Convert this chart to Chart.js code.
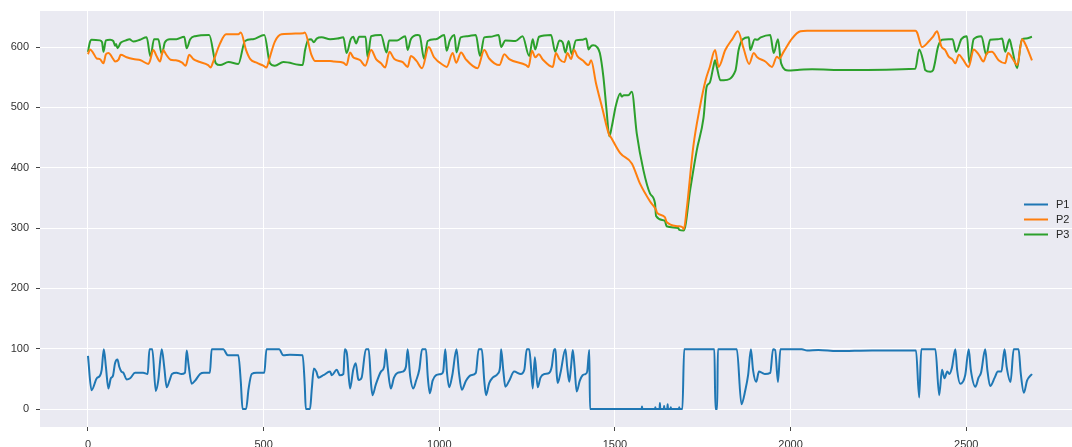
<!DOCTYPE html>
<html lang="en">
<head>
  <meta charset="UTF-8">
  <title>P1 P2 P3</title>
  <style>
    html, body {
      margin: 0;
      padding: 0;
      background: white;
      overflow: hidden;
    }
    #chart {
      display: block;
    }
  </style>
</head>
<body>
  <canvas id="chart" width="1072" height="447"></canvas>

  <script src="https://cdn.jsdelivr.net/npm/chart.js@4.4.0/dist/chart.umd.min.js"></script>
  <script>
    const SERIES_LABELS = ['P1', 'P2', 'P3'];
    const SERIES_COLORS = ['#1f77b4', '#ff7f0e', '#2ca02c'];
    const X_TICKS = [0, 500, 1000, 1500, 2000, 2500];
    const Y_TICKS = [0, 100, 200, 300, 400, 500, 600];

    const P1_X = [0, 10, 25, 34, 39, 45, 51, 58, 65, 71, 77, 84, 89, 95, 101, 110, 120, 134, 157, 170, 175, 183, 193, 200, 210, 217, 224, 232, 239, 252, 266, 276, 281, 286, 295, 305, 319, 330, 347, 352, 385, 398, 428, 435, 440, 450, 457, 466, 480, 502, 508, 544, 556, 575, 611, 617, 620, 632, 637, 643, 650, 656, 670, 689, 694, 708, 717, 727, 731, 737, 746, 755, 762, 769, 772, 779, 791, 799, 806, 810, 819, 834, 843, 848, 853, 862, 871, 881, 896, 905, 910, 917, 926, 934, 943, 951, 962, 967, 973, 981, 991, 1005, 1011, 1017, 1022, 1028, 1037, 1049, 1056, 1064, 1076, 1090, 1104, 1112, 1121, 1128, 1133, 1142, 1152, 1166, 1173, 1176, 1182, 1188, 1199, 1213, 1232, 1242, 1249, 1256, 1261, 1266, 1272, 1280, 1288, 1299, 1313, 1320, 1327, 1331, 1334, 1337, 1345, 1359, 1364, 1370, 1375, 1380, 1385, 1391, 1400, 1408, 1416, 1421, 1427, 1429, 1576, 1577, 1578, 1614, 1615, 1616, 1627, 1628, 1629, 1639, 1640, 1641, 1649, 1650, 1651, 1658, 1659, 1660, 1682, 1683, 1684, 1692, 1697, 1783, 1786, 1791, 1793, 1847, 1860, 1871, 1879, 1887, 1893, 1902, 1910, 1919, 1927, 1942, 1950, 1956, 1964, 1971, 2032, 2047, 2079, 2132, 2232, 2350, 2357, 2366, 2372, 2412, 2423, 2431, 2438, 2446, 2452, 2459, 2469, 2474, 2483, 2497, 2507, 2513, 2526, 2535, 2542, 2554, 2560, 2568, 2581, 2590, 2600, 2609, 2615, 2626, 2635, 2649, 2655, 2664, 2673, 2687];
    const P1_Y = [88, 31, 51, 55, 65, 99, 70, 34, 51, 55, 76, 82, 70, 62, 60, 49, 51, 60, 60, 58, 99, 99, 30, 47, 99, 70, 36, 47, 58, 60, 58, 60, 97, 75, 42, 47, 58, 60, 60, 99, 99, 89, 89, 45, 0, 0, 33, 58, 60, 60, 99, 99, 89, 90, 89, 40, 0, 0, 33, 67, 62, 52, 56, 62, 56, 65, 56, 58, 99, 92, 34, 65, 76, 50, 48, 52, 99, 99, 40, 23, 40, 62, 70, 99, 70, 34, 52, 60, 62, 70, 99, 55, 34, 47, 65, 99, 99, 55, 26, 47, 56, 58, 62, 99, 60, 36, 56, 99, 60, 32, 47, 56, 60, 99, 99, 47, 23, 43, 52, 58, 70, 99, 65, 37, 47, 62, 58, 65, 99, 99, 70, 34, 86, 36, 52, 58, 60, 70, 99, 99, 60, 43, 60, 99, 70, 45, 70, 98, 70, 29, 47, 56, 58, 62, 98, 0, 0, 4, 0, 0, 3, 0, 0, 10, 0, 0, 5, 0, 0, 8, 0, 0, 3, 0, 0, 3, 0, 0, 99, 99, 0, 0, 99, 99, 8, 31, 56, 99, 65, 45, 62, 60, 58, 60, 99, 98, 45, 99, 99, 97, 98, 96, 97, 97, 97, 19, 99, 99, 23, 65, 51, 62, 58, 68, 99, 65, 42, 56, 99, 65, 37, 52, 60, 99, 65, 38, 52, 62, 62, 99, 70, 45, 99, 99, 60, 27, 47, 58];

    const P2_X = [0, 6, 15, 25, 34, 44, 51, 58, 72, 77, 87, 93, 110, 129, 150, 172, 176, 186, 195, 205, 214, 222, 235, 250, 268, 278, 288, 300, 314, 342, 349, 356, 376, 393, 428, 435, 450, 462, 480, 499, 508, 516, 532, 551, 613, 617, 636, 646, 670, 689, 700, 727, 736, 746, 755, 763, 775, 789, 806, 820, 834, 846, 858, 872, 896, 910, 919, 935, 951, 970, 985, 1014, 1021, 1038, 1048, 1062, 1075, 1109, 1128, 1142, 1171, 1185, 1199, 1247, 1254, 1264, 1273, 1283, 1295, 1323, 1332, 1342, 1356, 1365, 1375, 1384, 1393, 1408, 1425, 1432, 1446, 1465, 1482, 1489, 1515, 1548, 1571, 1600, 1617, 1620, 1642, 1647, 1680, 1693, 1696, 1704, 1723, 1742, 1758, 1770, 1785, 1795, 1814, 1835, 1850, 1866, 1882, 1895, 1905, 1928, 1947, 1961, 1968, 1980, 2004, 2028, 2047, 2156, 2355, 2360, 2374, 2393, 2405, 2417, 2429, 2440, 2450, 2460, 2469, 2479, 2490, 2507, 2521, 2535, 2549, 2559, 2573, 2592, 2611, 2619, 2635, 2645, 2659, 2668, 2687];
    const P2_Y = [588, 596, 590, 581, 580, 573, 588, 590, 580, 576, 579, 587, 583, 580, 578, 572, 576, 595, 585, 576, 595, 588, 579, 578, 574, 569, 587, 580, 576, 570, 566, 575, 606, 621, 621, 624, 595, 580, 574, 569, 566, 580, 609, 621, 623, 624, 587, 577, 577, 577, 576, 574, 570, 591, 583, 581, 578, 569, 595, 580, 573, 566, 592, 580, 575, 567, 585, 577, 565, 600, 583, 569, 567, 590, 574, 591, 580, 565, 595, 581, 570, 588, 580, 570, 567, 594, 583, 588, 579, 567, 590, 580, 575, 590, 580, 595, 585, 578, 570, 578, 540, 496, 457, 450, 424, 407, 374, 344, 330, 325, 318, 310, 303, 301, 298, 330, 435, 501, 545, 567, 595, 567, 595, 614, 626, 598, 572, 590, 583, 576, 567, 584, 581, 592, 614, 626, 627, 627, 627, 624, 600, 609, 617, 626, 601, 595, 584, 580, 573, 587, 580, 567, 596, 588, 576, 590, 592, 578, 573, 590, 578, 570, 613, 605, 578];

    const P3_X = [0, 5, 10, 34, 40, 44, 51, 63, 72, 77, 80, 84, 93, 108, 118, 129, 148, 167, 178, 188, 200, 210, 219, 233, 252, 274, 281, 291, 305, 345, 364, 376, 400, 428, 447, 470, 502, 518, 532, 556, 611, 618, 627, 635, 643, 651, 665, 689, 710, 727, 736, 748, 755, 763, 772, 790, 796, 806, 834, 850, 857, 880, 903, 910, 919, 938, 944, 957, 967, 990, 1014, 1021, 1030, 1043, 1049, 1061, 1080, 1104, 1116, 1128, 1145, 1169, 1176, 1188, 1217, 1237, 1256, 1266, 1273, 1284, 1318, 1330, 1342, 1351, 1359, 1368, 1377, 1389, 1408, 1418, 1425, 1431, 1438, 1449, 1457, 1467, 1476, 1484, 1491, 1503, 1515, 1519, 1525, 1538, 1548, 1562, 1581, 1600, 1614, 1617, 1642, 1647, 1680, 1683, 1696, 1714, 1733, 1752, 1761, 1770, 1780, 1785, 1790, 1800, 1810, 1843, 1852, 1864, 1881, 1885, 1898, 1905, 1915, 1942, 1952, 1964, 1973, 1994, 2019, 2061, 2156, 2355, 2366, 2379, 2383, 2398, 2405, 2420, 2431, 2450, 2461, 2471, 2486, 2502, 2509, 2521, 2543, 2557, 2568, 2590, 2602, 2611, 2623, 2630, 2645, 2654, 2659, 2670, 2687];
    const P3_Y = [592, 607, 612, 611, 608, 592, 611, 612, 610, 602, 605, 598, 607, 611, 613, 609, 612, 616, 584, 613, 613, 588, 608, 613, 613, 617, 598, 613, 618, 620, 573, 570, 575, 572, 610, 613, 620, 573, 569, 575, 570, 595, 612, 613, 608, 614, 616, 613, 614, 616, 590, 613, 617, 606, 617, 617, 583, 618, 620, 591, 611, 611, 618, 595, 613, 620, 619, 580, 610, 613, 620, 594, 611, 620, 591, 616, 618, 620, 585, 616, 617, 620, 600, 611, 610, 618, 585, 613, 596, 617, 620, 592, 611, 608, 591, 610, 588, 611, 612, 614, 596, 601, 603, 600, 590, 551, 496, 452, 468, 504, 523, 518, 520, 520, 526, 457, 396, 357, 341, 320, 312, 303, 300, 297, 296, 363, 429, 482, 534, 541, 567, 578, 567, 545, 545, 561, 595, 613, 616, 595, 613, 612, 616, 620, 590, 613, 573, 561, 562, 563, 562, 564, 596, 573, 562, 559, 561, 601, 612, 613, 613, 592, 613, 618, 573, 613, 618, 587, 612, 613, 614, 592, 613, 598, 565, 601, 613, 614, 617];

    const SERIES = [[P1_X, P1_Y], [P2_X, P2_Y], [P3_X, P3_Y]];

    function toPoints(xs, ys) {
      return xs.map((x, i) => ({ x, y: ys[i] }));
    }

    // seaborn-like darkgrid background behind the plot
    const plotBackground = {
      id: 'plotBackground',
      beforeDraw(chart) {
        const { ctx, chartArea } = chart;
        ctx.save();
        ctx.fillStyle = '#eaeaf2';
        ctx.fillRect(chartArea.left, chartArea.top, chartArea.right - chartArea.left, chartArea.bottom - chartArea.top);
        ctx.restore();
      }
    };

    // legend sitting inside the plot, center right
    const insideLegend = {
      id: 'insideLegend',
      afterDraw(chart) {
        const { ctx, chartArea } = chart;
        const mid = (chartArea.top + chartArea.bottom) / 2;
        ctx.save();
        ctx.font = '11px "Liberation Sans", Arial, sans-serif';
        ctx.textBaseline = 'middle';
        chart.data.datasets.forEach((ds, i) => {
          const y = Math.round(mid + (i - 1) * 15) + 0.5;
          ctx.strokeStyle = ds.borderColor;
          ctx.lineWidth = 2;
          ctx.beginPath();
          ctx.moveTo(chartArea.right - 48, y);
          ctx.lineTo(chartArea.right - 24, y);
          ctx.stroke();
          ctx.fillStyle = '#262626';
          ctx.fillText(ds.label, chartArea.right - 16, y);
        });
        ctx.restore();
      }
    };

    const axisCommon = {
      type: 'linear',
      border: { display: false },
      grid: {
        color: '#ffffff',
        lineWidth: 1,
        tickColor: '#444444',
        tickLength: 4,
        tickWidth: 1
      },
      ticks: {
        color: '#333333',
        padding: 7,
        font: { family: '"Liberation Sans", Arial, sans-serif', size: 11 },
        callback: (v) => String(v)
      }
    };

    new Chart(document.getElementById('chart'), {
      type: 'line',
      data: {
        datasets: SERIES.map(([xs, ys], i) => ({
          label: SERIES_LABELS[i],
          data: toPoints(xs, ys),
          borderColor: SERIES_COLORS[i],
          backgroundColor: SERIES_COLORS[i],
          borderWidth: 2,
          pointRadius: 0,
          cubicInterpolationMode: 'monotone',
          fill: false
        }))
      },
      plugins: [plotBackground, insideLegend],
      options: {
        responsive: false,
        animation: false,
        devicePixelRatio: 1,
        layout: { padding: { top: 11, left: 0, right: 0, bottom: 0 } },
        plugins: {
          legend: { display: false },
          tooltip: { enabled: false }
        },
        scales: {
          x: {
            ...axisCommon,
            min: -136.6,
            max: 2801,
            afterBuildTicks: (scale) => {
              scale.ticks = X_TICKS.map(v => ({ value: v }));
            },
            afterFit: (scale) => {
              scale.height = 20;
              scale.paddingLeft = 0;
              scale.paddingRight = 0;
            }
          },
          y: {
            ...axisCommon,
            min: -29.8,
            max: 659.7,
            afterBuildTicks: (scale) => {
              scale.ticks = Y_TICKS.map(v => ({ value: v }));
            },
            afterFit: (scale) => {
              scale.width = 40;
              scale.paddingTop = 0;
              scale.paddingBottom = 0;
            }
          }
        }
      }
    });
  </script>
</body>
</html>
